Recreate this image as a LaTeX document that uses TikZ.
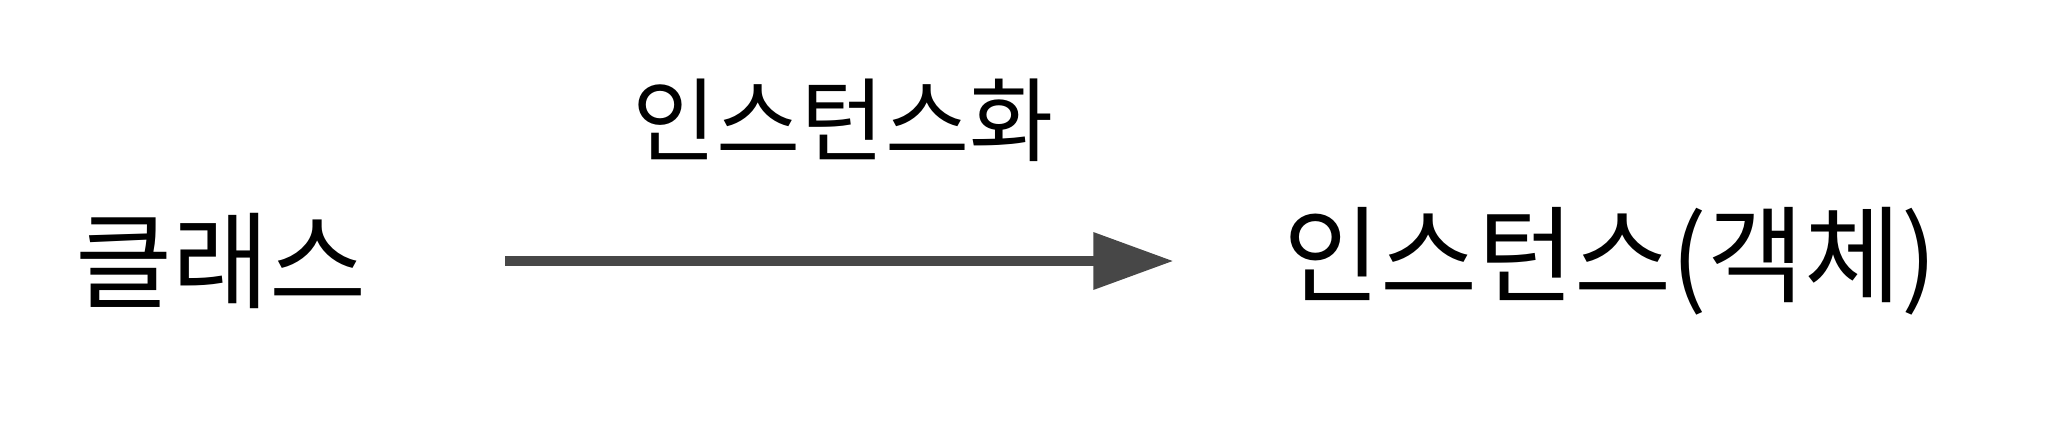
\documentclass[tikz,border=0pt]{standalone}
\usepackage{fontspec}
\newfontfamily\krfont{Noto Sans CJK KR}
\usetikzlibrary{arrows.meta,positioning}

\begin{document}
\begin{tikzpicture}[
    x=0.01cm, y=0.01cm,
    term/.style={font=\krfont\fontsize{30}{32}\selectfont, inner sep=0pt},
    label/.style={font=\krfont\fontsize{26}{28}\selectfont, inner sep=0pt}
]
    \useasboundingbox (0,0) rectangle (2048,420);
    \node[term] (Cls) at (221,159) {클래스};
    \node[term] (Inst) at (1610,159) {인스턴스(객체)};

    \draw[line width=0.1cm, draw=black!72, -{Triangle[length=0.8cm,width=0.55cm]},
          shorten <=1.38cm, shorten >=1.09cm]
        (Cls) -- (Inst);
    \node[label] (Lbl) at (843,300) {인스턴스화};
\end{tikzpicture}
\end{document}
